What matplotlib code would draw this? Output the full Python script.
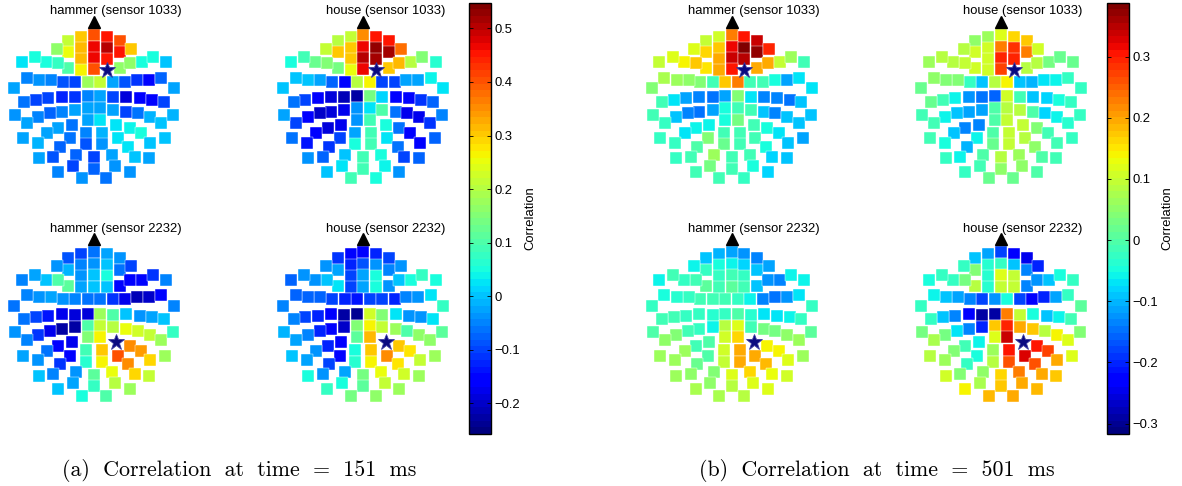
import numpy as np
import matplotlib
matplotlib.use('Agg')
import matplotlib.pyplot as plt
from matplotlib.patches import Rectangle
from matplotlib.collections import PatchCollection
from matplotlib.colors import Normalize

plt.rcParams['font.family'] = ['Liberation Sans', 'DejaVu Sans']

# sensor layout (same for all 8 heads), x to the right, y downwards
sensor_x = [-38, 0, 38, -38, 0, 38, -38, 0, 38, -38, 0, 38,
            -77, 77, -77, 77, -77, 77, -112, 112, -108, 108, -144, 144, -177, 177, -217, 217,
            -19, 19, -56, 56, -94, 94, -129, 129, -165, 165, -202, 202, -240, 240,
            -19, 19, -57, 57, -97, 97, -137, 137, -174, 174, -209, 209,
            -19, 19, -57, 57, -97, 97, -131, 131, -167, 167, -201, 201, -237, 237,
            -19, 19, -67, 67, -107, 107, -141, 141, -169, 169, -214, 214,
            -24, 24, -71, 71, -103, 103, -166, 166,
            -24, 24, -54, 54, -122, 122, 0, -64, 64, -108, 108, 0, -37, 37]
sensor_y = [110, 105, 110, 143, 140, 143, 176, 173, 176, 209, 208, 209,
            122, 122, 157, 157, 205, 205, 147, 147, 189, 189, 187, 187, 172, 172, 187, 187,
            245, 245, 246, 246, 246, 246, 240, 240, 239, 239, 233, 233, 265, 265,
            289, 289, 292, 292, 290, 290, 295, 295, 300, 300, 305, 305,
            325, 325, 330, 330, 335, 335, 340, 340, 352, 352, 368, 368, 345, 345,
            360, 360, 375, 375, 385, 385, 400, 400, 428, 428, 415, 415,
            398, 398, 415, 415, 440, 440, 475, 475,
            433, 433, 465, 465, 470, 470, 472, 497, 497, 515, 515, 507, 535, 535]

seed_1033 = 11
seed_2232 = 71
nan = np.nan

# correlation values at 151 ms
hammer_1033_t151 = [0.30, 0.40, 0.45, 0.32, 0.47, 0.50, 0.32, 0.47, 0.45, 0.27, 0.40, nan,
    0.22, 0.40, 0.25, 0.45, 0.10, 0.17, 0.16, 0.30, 0.08, 0.17, 0.05, 0.05, 0.05, 0.05, 0.02, 0.00,
    0.18, 0.22, -0.10, -0.03, -0.09, -0.09, -0.05, -0.11, -0.04, -0.15, -0.05, -0.08, -0.02, -0.02,
    -0.05, -0.02, -0.11, -0.10, -0.13, -0.19, -0.10, -0.16, -0.10, -0.16, -0.06, -0.10,
    -0.03, -0.02, -0.03, -0.03, -0.05, -0.10, -0.08, -0.06, -0.05, -0.01, -0.03, 0.00, -0.04, -0.01,
    -0.02, 0.02, -0.06, 0.02, -0.03, 0.04, -0.03, 0.05, -0.01, 0.00, -0.03, 0.00,
    -0.05, -0.01, -0.06, 0.03, -0.08, 0.03, -0.03, -0.02,
    -0.09, -0.04, -0.07, -0.03, -0.09, 0.00, -0.10, -0.10, -0.04, -0.05, -0.04, -0.08, -0.04, -0.06]
house_1033_t151 = [0.22, 0.35, 0.45, 0.30, 0.47, 0.53, 0.30, 0.51, 0.52, 0.25, 0.46, nan,
    0.20, 0.45, 0.30, 0.52, 0.14, 0.30, 0.21, 0.38, 0.15, 0.32, 0.13, 0.20, 0.09, 0.15, 0.05, 0.07,
    0.20, 0.27, -0.15, -0.10, -0.08, -0.10, -0.02, -0.03, 0.00, -0.03, 0.00, 0.04, 0.00, 0.02,
    -0.22, 0.14, -0.21, 0.01, -0.19, -0.15, -0.16, -0.15, -0.10, -0.11, -0.06, -0.08,
    -0.04, 0.03, -0.18, 0.10, -0.19, -0.06, -0.20, -0.18, -0.16, -0.17, -0.10, -0.11, -0.03, -0.05,
    -0.04, 0.09, -0.18, 0.05, -0.19, -0.06, -0.16, -0.16, -0.14, -0.16, -0.06, -0.08,
    -0.02, 0.09, -0.10, 0.02, -0.11, -0.06, -0.04, -0.08,
    0.05, 0.09, 0.00, 0.05, -0.08, -0.10, 0.09, 0.03, 0.04, 0.00, -0.04, 0.09, 0.09, 0.05]
hammer_2232_t151 = [-0.10, -0.06, -0.02, -0.05, -0.04, 0.00, -0.04, 0.00, 0.05, -0.03, 0.00, 0.00,
    -0.09, -0.04, -0.01, -0.06, 0.11, -0.15, -0.04, -0.10, 0.10, -0.16, 0.00, -0.15, -0.03, -0.11, -0.05, -0.05,
    -0.06, -0.06, -0.05, -0.11, -0.04, -0.18, -0.03, -0.21, -0.04, -0.20, -0.05, -0.15, -0.06, -0.05,
    -0.19, 0.18, -0.19, 0.10, -0.17, 0.00, -0.14, -0.04, -0.10, -0.02, -0.06, 0.00,
    0.10, 0.21, -0.23, 0.20, -0.22, 0.25, -0.18, 0.23, -0.11, 0.21, -0.05, 0.18, -0.04, 0.08,
    0.15, 0.27, -0.18, nan, -0.16, 0.35, -0.06, 0.34, -0.04, 0.29, -0.03, 0.18,
    0.09, 0.30, -0.16, 0.40, -0.11, 0.35, 0.00, 0.21,
    0.06, 0.27, -0.04, 0.25, -0.05, 0.29, 0.11, -0.02, 0.20, 0.00, 0.18, 0.08, 0.05, 0.10]
house_2232_t151 = [-0.15, -0.16, -0.12, -0.12, -0.09, -0.04, -0.10, -0.02, 0.05, -0.10, -0.02, 0.05,
    -0.11, -0.10, -0.03, -0.05, 0.02, -0.04, -0.04, -0.04, 0.00, 0.00, -0.04, 0.05, -0.04, 0.08, -0.08, 0.05,
    -0.14, -0.10, -0.12, -0.10, -0.10, -0.13, -0.08, -0.05, -0.08, -0.04, -0.08, 0.03, -0.05, 0.08,
    -0.24, 0.23, -0.22, 0.15, -0.16, 0.02, -0.12, -0.04, -0.10, -0.04, -0.05, 0.02,
    0.15, 0.27, -0.20, 0.21, -0.16, 0.18, -0.13, 0.10, -0.05, 0.16, -0.03, 0.16, -0.01, 0.12,
    0.11, 0.31, -0.16, nan, -0.12, 0.30, -0.04, 0.28, -0.03, 0.22, 0.00, 0.18,
    0.05, 0.30, -0.15, 0.35, -0.10, 0.28, 0.05, 0.18,
    0.06, 0.27, -0.02, 0.25, -0.04, 0.23, 0.14, 0.05, 0.21, 0.08, 0.18, 0.12, 0.14, 0.16]

# correlation values at 501 ms
hammer_1033_t501 = [0.11, 0.23, 0.30, 0.17, 0.32, 0.39, 0.19, 0.34, 0.35, 0.19, 0.31, nan,
    0.10, 0.34, 0.16, 0.37, 0.15, 0.20, 0.12, 0.29, 0.17, 0.20, 0.14, 0.10, 0.12, 0.06, 0.10, -0.01,
    0.17, 0.23, -0.01, -0.01, 0.04, -0.01, 0.05, -0.05, 0.06, -0.11, 0.07, -0.07, 0.04, -0.07,
    -0.11, 0.04, -0.15, -0.07, -0.14, -0.14, -0.11, -0.14, -0.07, -0.15, -0.01, -0.09,
    -0.05, -0.01, -0.11, -0.01, -0.15, -0.09, -0.14, -0.13, -0.09, -0.09, -0.02, -0.09, -0.01, -0.09,
    -0.05, 0.03, -0.06, -0.01, -0.06, -0.05, -0.07, -0.07, -0.03, -0.09, -0.02, -0.11,
    -0.01, -0.01, 0.04, -0.01, 0.00, -0.05, -0.02, -0.09,
    0.02, -0.01, 0.06, -0.01, -0.01, -0.08, -0.01, 0.03, -0.05, -0.01, -0.08, -0.01, -0.01, -0.02]
house_1033_t501 = [0.06, 0.12, 0.16, 0.11, 0.23, 0.28, 0.11, 0.29, 0.29, 0.11, 0.27, nan,
    0.05, 0.17, 0.11, 0.23, 0.11, 0.09, 0.08, 0.11, 0.10, 0.09, 0.09, 0.03, 0.08, 0.02, 0.06, 0.02,
    0.09, 0.14, -0.09, -0.09, -0.03, -0.10, 0.04, -0.07, 0.04, -0.06, 0.05, -0.02, 0.02, -0.02,
    -0.16, 0.11, -0.15, -0.01, -0.12, -0.09, -0.06, -0.08, -0.01, -0.05, 0.02, -0.02,
    0.00, 0.08, -0.11, 0.08, -0.11, 0.00, -0.09, -0.08, -0.06, -0.06, -0.01, -0.04, -0.01, -0.03,
    0.00, 0.10, -0.13, 0.10, -0.14, 0.04, -0.09, -0.01, -0.05, -0.01, -0.01, -0.02,
    0.00, 0.10, -0.06, 0.08, -0.10, 0.05, -0.02, -0.01,
    0.02, 0.10, 0.00, 0.06, -0.06, 0.00, 0.08, -0.01, 0.05, -0.02, 0.00, 0.05, 0.02, 0.02]
hammer_2232_t501 = [-0.10, -0.11, -0.12, -0.05, -0.06, -0.08, -0.03, -0.01, -0.03, -0.01, 0.01, -0.01,
    -0.09, -0.13, -0.03, -0.09, 0.01, -0.09, -0.06, -0.11, -0.01, -0.12, -0.03, -0.13, -0.01, -0.06, -0.06, -0.06,
    -0.01, -0.03, -0.01, -0.06, -0.01, -0.13, -0.03, -0.15, -0.04, -0.12, -0.05, -0.07, -0.03, -0.03,
    -0.02, 0.00, -0.04, -0.04, -0.03, -0.07, -0.02, -0.07, -0.01, -0.06, -0.01, -0.03,
    0.09, 0.12, -0.06, -0.01, -0.03, 0.03, -0.01, 0.03, 0.04, 0.05, 0.05, 0.06, 0.00, 0.01,
    0.11, 0.16, 0.00, nan, -0.01, 0.14, 0.06, 0.14, 0.06, 0.12, 0.06, 0.06,
    0.11, 0.20, 0.00, 0.20, 0.02, 0.18, 0.06, 0.11,
    0.10, 0.19, 0.04, 0.16, 0.05, 0.13, 0.12, 0.05, 0.12, 0.07, 0.12, 0.09, 0.07, 0.09]
house_2232_t501 = [-0.11, -0.18, -0.23, -0.04, -0.03, -0.09, -0.04, 0.12, 0.10, -0.04, 0.10, 0.10,
    -0.09, -0.25, 0.04, -0.13, 0.09, -0.13, -0.02, -0.20, 0.03, -0.12, -0.02, -0.09, -0.02, -0.05, -0.05, -0.02,
    -0.12, -0.05, -0.18, -0.18, -0.14, -0.23, -0.11, -0.20, -0.09, -0.11, -0.06, -0.02, -0.02, 0.01,
    -0.29, 0.23, -0.29, 0.10, -0.23, -0.05, -0.14, -0.09, -0.09, -0.06, -0.02, -0.01,
    0.17, 0.29, -0.20, 0.20, -0.14, 0.17, -0.07, 0.09, 0.03, 0.14, 0.07, 0.12, 0.03, 0.04,
    0.12, 0.34, -0.06, nan, -0.01, 0.30, 0.04, 0.27, 0.06, 0.19, 0.09, 0.12,
    0.06, 0.31, -0.05, 0.33, -0.02, 0.26, 0.11, 0.17,
    0.09, 0.26, 0.05, 0.23, 0.04, 0.19, 0.16, 0.07, 0.20, 0.14, 0.18, 0.17, 0.18, 0.19]

clim_151 = (-0.257, 0.548)
clim_501 = (-0.317, 0.388)
ticks_151 = [-0.2, -0.1, 0, 0.1, 0.2, 0.3, 0.4, 0.5]
ticks_501 = [-0.3, -0.2, -0.1, 0, 0.1, 0.2, 0.3]

W, H = 1182, 486
fig = plt.figure(figsize=(W / 100, H / 100), dpi=100)
cmap = plt.get_cmap('jet', 64)

# (title, values, seed sensor, centre x px, top y px, clim)
panels = [
    ('hammer (sensor 1033)', hammer_1033_t151, seed_1033, 94.0, 0.0, clim_151),
    ('house (sensor 1033)', house_1033_t151, seed_1033, 363.3, 0.0, clim_151),
    ('hammer (sensor 2232)', hammer_2232_t151, seed_2232, 94.0, 217.3, clim_151),
    ('house (sensor 2232)', house_2232_t151, seed_2232, 363.3, 217.3, clim_151),
    ('hammer (sensor 1033)', hammer_1033_t501, seed_1033, 731.7, 0.0, clim_501),
    ('house (sensor 1033)', house_1033_t501, seed_1033, 1001.0, 0.0, clim_501),
    ('hammer (sensor 2232)', hammer_2232_t501, seed_2232, 731.7, 217.3, clim_501),
    ('house (sensor 2232)', house_2232_t501, seed_2232, 1001.0, 217.3, clim_501),
]

sx = np.array(sensor_x, float)
sy = np.array(sensor_y, float)
sq = 36.5  # square side in layout units (3 units = 1 px)

for title, vals, seed, cx, ty, clim in panels:
    vals = np.array(vals, float)
    ax = fig.add_axes([(cx - 280 / 3) / W, (H - ty - 580 / 3) / H, (560 / 3) / W, (580 / 3) / H])
    ax.set_xlim(-280, 280)
    ax.set_ylim(580, 0)
    ax.axis('off')
    keep = ~np.isnan(vals)
    rects = [Rectangle((x - sq / 2, y - sq / 2), sq, sq) for x, y in zip(sx[keep], sy[keep])]
    pc = PatchCollection(rects, cmap=cmap, norm=Normalize(*clim), edgecolor='white', linewidth=0.3)
    pc.set_array(vals[keep])
    ax.add_collection(pc)
    ax.plot(sx[seed], sy[seed], marker='*', ms=12, mfc='#0a0a80', mec='#3a3aa0', mew=0.6)
    ax.plot(0, 65, marker='^', ms=8, color='black')
    ax.text(66, 34, title, ha='center', va='center', fontsize=9.4)

# colorbars
for x0, clim, ticks, lab_x in [(469, clim_151, ticks_151, 530), (1107.3, clim_501, ticks_501, 1167.5)]:
    cax = fig.add_axes([x0 / W, (H - 434) / H, 22 / W, 431.3 / H])
    sm = plt.cm.ScalarMappable(norm=Normalize(*clim), cmap=cmap)
    cb = fig.colorbar(sm, cax=cax, ticks=ticks)
    cb.ax.set_yticklabels(['0' if t == 0 else f'{t:.1f}'.replace('-', '\u2212') for t in ticks])
    cax.tick_params(direction='in', left=True, right=True, length=3, width=0.6,
                    labelsize=9.4, pad=2.5)
    cb.outline.set_linewidth(1.0)
    fig.text(lab_x / W, 1 - 218 / H, 'Correlation', rotation=90, ha='center', va='center',
             fontsize=9.4)

sp = '\u2002\u200a'
cap_font = ['cmr10', 'DejaVu Serif']
fig.text(239 / W, 1 - 470 / H, sp.join(['(a)', 'Correlation', 'at', 'time', '=', '151', 'ms']),
         ha='center', va='center', fontsize=15.8, family=cap_font)
fig.text(877 / W, 1 - 470 / H, sp.join(['(b)', 'Correlation', 'at', 'time', '=', '501', 'ms']),
         ha='center', va='center', fontsize=15.8, family=cap_font)

fig.savefig('out.png', dpi=100)
